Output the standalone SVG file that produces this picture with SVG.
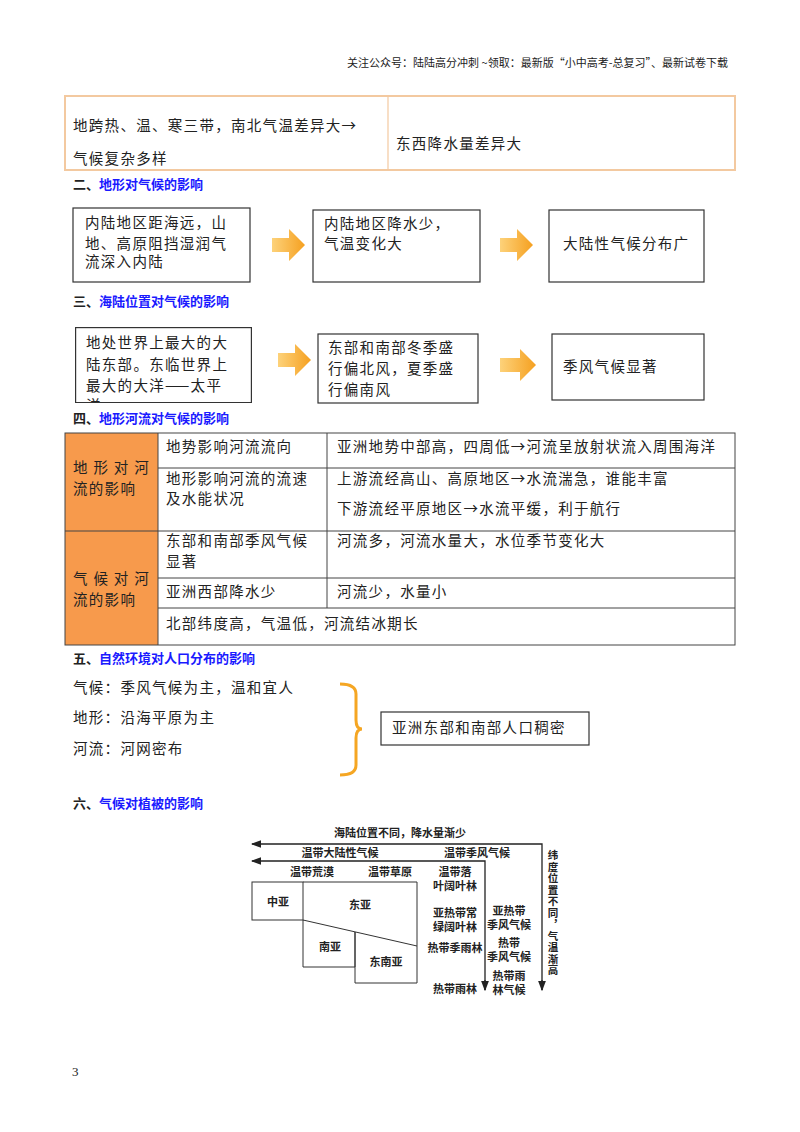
<svg xmlns="http://www.w3.org/2000/svg" width="800" height="1132" viewBox="0 0 800 1132">
<style>
text{font-family:"Noto Sans CJK SC",sans-serif;fill:#222}
.b{font-size:14.5px;letter-spacing:1.3px}
.h{font-size:13px;font-weight:bold}
.hb{fill:#1a1aff}
.box{fill:#fff;stroke:#333;stroke-width:1.2}
.t{fill:none;stroke:#444;stroke-width:1}
.f{font-size:11px;font-weight:bold;text-anchor:middle}
.v{font-size:10.5px;font-weight:bold;writing-mode:vertical-rl;letter-spacing:1px}
.ln{fill:none;stroke:#222;stroke-width:1.3}
</style>
<defs>
<marker id="ah" markerWidth="8" markerHeight="8" refX="7" refY="4" orient="auto"><path d="M0,1 L8,4 L0,7 z" fill="#222"/></marker>
<linearGradient id="og" x1="0" x2="1"><stop offset="0" stop-color="#fdd27a"/><stop offset="1" stop-color="#f5a020"/></linearGradient>
</defs>
<rect width="800" height="1132" fill="#fff"/>
<text x="728" y="67" font-size="11" text-anchor="end">关注公众号：陆陆高分冲刺 ~领取：最新版“小中高考-总复习”、最新试卷下载</text>

<g id="table1">
<rect x="65" y="96" width="670" height="74" fill="none" stroke="#f3c9a0" stroke-width="2"/>
<line x1="388" y1="96" x2="388" y2="170" stroke="#f3c9a0" stroke-width="1.2"/>
<text class="b" x="73" y="131">地跨热、温、寒三带，南北气温差异大→</text>
<text class="b" x="73" y="164">气候复杂多样</text>
<text class="b" x="396" y="149">东西降水量差异大</text>
</g>

<text class="h" x="73" y="189">二、<tspan class="hb">地形对气候的影响</tspan></text>
<g id="s2n1"><rect class="box" x="73" y="208" width="177" height="74"/>
<text class="b" x="85" y="228">内陆地区距海远，山</text><text class="b" x="85" y="249">地、高原阻挡湿润气</text><text class="b" x="85" y="267">流深入内陆</text></g>
<g id="s2n2"><rect class="box" x="313" y="210" width="167" height="72"/>
<text class="b" x="324" y="229">内陆地区降水少，</text><text class="b" x="324" y="249">气温变化大</text></g>
<g id="s2n3"><rect class="box" x="549" y="210" width="155" height="72"/>
<text class="b" x="563" y="249">大陆性气候分布广</text></g>

<text class="h" x="73" y="306">三、<tspan class="hb">海陆位置对气候的影响</tspan></text>
<g id="s3n1"><svg x="75" y="327" width="177" height="76"><rect class="box" x="0.6" y="0.6" width="175.8" height="80"/>
<text class="b" x="11" y="21">地处世界上最大的大</text><text class="b" x="11" y="43">陆东部。东临世界上</text><text class="b" x="11" y="64">最大的大洋——太平</text><text class="b" x="11" y="84">洋</text></svg>
<line x1="75" y1="402.5" x2="252" y2="402.5" stroke="#333"/></g>
<g id="s3n2"><rect class="box" x="318" y="334" width="160" height="69"/>
<text class="b" x="328" y="353">东部和南部冬季盛</text><text class="b" x="328" y="374">行偏北风，夏季盛</text><text class="b" x="328" y="395">行偏南风</text></g>
<g id="s3n3"><rect class="box" x="552" y="334" width="152" height="66"/>
<text class="b" x="563" y="372">季风气候显著</text></g>

<g id="connectors">
<path d="M272,238 h17 v-9 l16,16 l-16,16 v-9 h-17 z" fill="url(#og)"/>
<path d="M500,238 h17 v-9 l16,16 l-16,16 v-9 h-17 z" fill="url(#og)"/>
<path d="M278,353 h17 v-9 l16,16 l-16,16 v-9 h-17 z" fill="url(#og)"/>
<path d="M500,358 h20 v-9 l16,16 l-16,16 v-9 h-20 z" fill="url(#og)"/>
</g>

<text class="h" x="73" y="423">四、<tspan class="hb">地形河流对气候的影响</tspan></text>
<g id="table2">
<rect x="65" y="433" width="93" height="212" fill="#f79a4c"/>
<rect x="65" y="433" width="670" height="212" class="t"/>
<line class="t" x1="158" y1="433" x2="158" y2="645"/>
<line class="t" x1="327" y1="433" x2="327" y2="608"/>
<line class="t" x1="158" y1="468" x2="735" y2="468"/>
<line class="t" x1="65" y1="531" x2="735" y2="531"/>
<line class="t" x1="158" y1="578" x2="735" y2="578"/>
<line class="t" x1="158" y1="608" x2="735" y2="608"/>
<text class="b" x="73" y="473" textLength="77" lengthAdjust="spacing">地形对河</text><text class="b" x="73" y="494">流的影响</text>
<text class="b" x="73" y="584" textLength="77" lengthAdjust="spacing">气候对河</text><text class="b" x="73" y="605">流的影响</text>
<text class="b" x="166" y="452">地势影响河流流向</text>
<text class="b" x="337" y="452">亚洲地势中部高，四周低→河流呈放射状流入周围海洋</text>
<text class="b" x="166" y="484">地形影响河流的流速</text><text class="b" x="166" y="504">及水能状况</text>
<text class="b" x="337" y="484">上游流经高山、高原地区→水流湍急，谁能丰富</text>
<text class="b" x="337" y="514">下游流经平原地区→水流平缓，利于航行</text>
<text class="b" x="166" y="546">东部和南部季风气候</text><text class="b" x="166" y="567">显著</text>
<text class="b" x="337" y="546">河流多，河流水量大，水位季节变化大</text>
<text class="b" x="166" y="597">亚洲西部降水少</text><text class="b" x="337" y="597">河流少，水量小</text>
<text class="b" x="166" y="629">北部纬度高，气温低，河流结冰期长</text>
</g>

<text class="h" x="73" y="663">五、<tspan class="hb">自然环境对人口分布的影响</tspan></text>
<g id="s5">
<text class="b" x="73" y="693">气候：季风气候为主，温和宜人</text>
<text class="b" x="73" y="723">地形：沿海平原为主</text>
<text class="b" x="73" y="754">河流：河网密布</text>
<path d="M340,684 q16,0 16,10 v26 q0,9 6,9 q-6,0 -6,9 v27 q0,10 -16,10" fill="none" stroke="#f5a623" stroke-width="3"/>
<rect class="box" x="381" y="712" width="208" height="33"/>
<text class="b" x="392" y="733">亚洲东部和南部人口稠密</text>
</g>

<text class="h" x="73" y="808">六、<tspan class="hb">气候对植被的影响</tspan></text>
<g id="fig">
<text class="f" x="400" y="837">海陆位置不同，降水量渐少</text>
<polyline class="ln" points="542,990 542,844 252,844" marker-end="url(#ah)"/>
<line class="ln" x1="542" y1="980" x2="542" y2="990" marker-end="url(#ah)"/>
<polyline class="ln" points="485,990 485,861 252,861" marker-end="url(#ah)"/>
<line class="ln" x1="485" y1="980" x2="485" y2="990" marker-end="url(#ah)"/>
<text class="f" x="340" y="857">温带大陆性气候</text>
<text class="f" x="477" y="857">温带季风气候</text>
<text class="f" x="312" y="876">温带荒漠</text>
<text class="f" x="390" y="876">温带草原</text>
<text class="f" x="455" y="876">温带落</text><text class="f" x="455" y="890">叶阔叶林</text>
<g fill="none" stroke="#333" stroke-width="1">
<rect x="252" y="882" width="51" height="38"/>
<path d="M303,882 H417 V946 L303,920"/>
<path d="M303,920 V967 H355 V932"/>
<path d="M355,932 V983 H417 V946"/>
</g>
<text class="f" x="278" y="906">中亚</text>
<text class="f" x="360" y="909">东亚</text>
<text class="f" x="330" y="951">南亚</text>
<text class="f" x="386" y="966">东南亚</text>
<text class="f" x="455" y="917">亚热带常</text><text class="f" x="455" y="931">绿阔叶林</text>
<text class="f" x="455" y="952">热带季雨林</text>
<text class="f" x="455" y="993">热带雨林</text>
<text class="f" x="509" y="915">亚热带</text><text class="f" x="509" y="929">季风气候</text>
<text class="f" x="509" y="947">热带</text><text class="f" x="509" y="961">季风气候</text>
<text class="f" x="509" y="980">热带雨</text><text class="f" x="509" y="994">林气候</text>
<text class="v" x="553" y="850">纬度位置不同，气温渐高</text>
</g>
<text x="72" y="1076" font-size="13" style="font-family:'Liberation Serif',serif">3</text>
</svg>
